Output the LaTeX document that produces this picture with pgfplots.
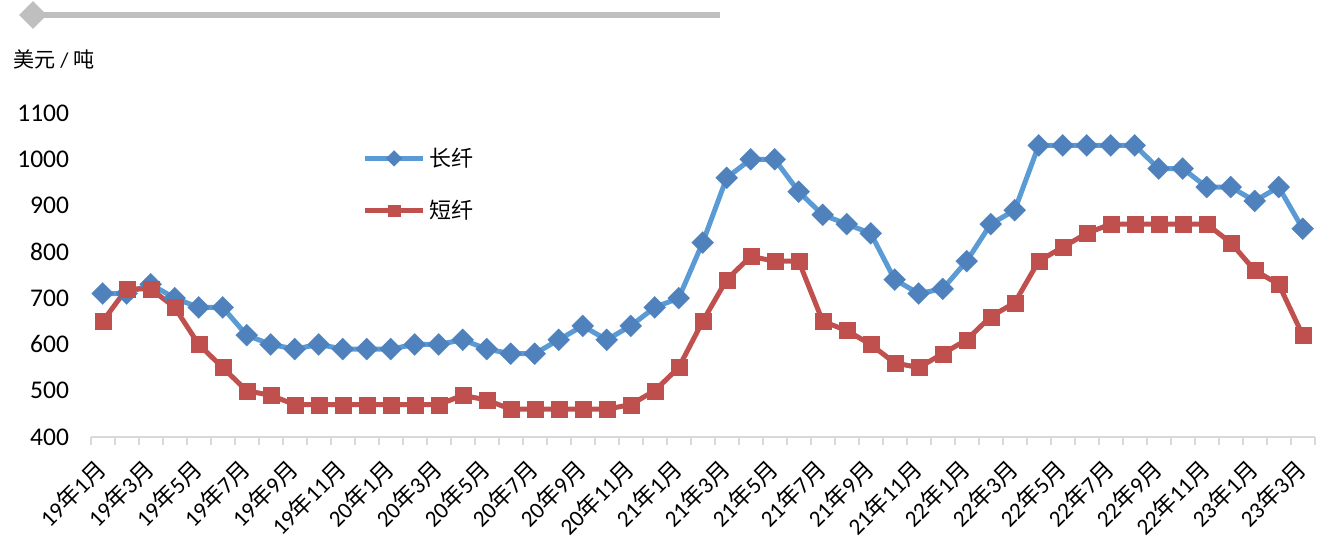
\documentclass[border=0pt]{standalone}
\usepackage{pgfplots}
\pgfplotsset{compat=1.18}
\usepackage{pgfplotstable}
\usetikzlibrary{shapes.geometric}
\usepackage{fontspec}
\setmainfont{Carlito}
\newfontfamily\cjk{Noto Sans CJK SC}
\newcommand\ym[2]{#1{\cjk 年}#2{\cjk 月}}
\definecolor{bline}{RGB}{91,155,213}
\definecolor{bmark}{RGB}{79,129,189}
\definecolor{rline}{RGB}{192,80,77}
\definecolor{axgray}{RGB}{217,217,217}
\definecolor{deco}{RGB}{191,191,191}

\pgfplotstableread{
i long short
0 710 650
1 710 720
2 730 720
3 700 680
4 680 600
5 680 550
6 620 500
7 600 490
8 590 470
9 600 470
10 590 470
11 590 470
12 590 470
13 600 470
14 600 470
15 610 490
16 590 480
17 580 460
18 580 460
19 610 460
20 640 460
21 610 460
22 640 470
23 680 500
24 700 550
25 820 650
26 960 740
27 1000 790
28 1000 780
29 930 780
30 880 650
31 860 630
32 840 600
33 740 560
34 710 550
35 720 580
36 780 610
37 860 660
38 890 690
39 1030 780
40 1030 810
41 1030 840
42 1030 860
43 1030 860
44 980 860
45 980 860
46 940 860
47 940 820
48 910 760
49 940 730
50 850 620
}\datatable

\begin{document}
\begin{tikzpicture}
\path[use as bounding box] (-18.14mm,-20.4mm) rectangle (248.26mm,87.4mm);
\begin{axis}[
  at={(0,0)}, anchor=south west,
  scale only axis,
  width=244.8mm, height=64.8mm,
  xmin=-0.5, xmax=50.5, ymin=400, ymax=1100,
  ytick={400,500,...,1100},
  xtick={0,2,...,50},
  xticklabels={\ym{19}{1},\ym{19}{3},\ym{19}{5},\ym{19}{7},\ym{19}{9},\ym{19}{11},
    \ym{20}{1},\ym{20}{3},\ym{20}{5},\ym{20}{7},\ym{20}{9},\ym{20}{11},
    \ym{21}{1},\ym{21}{3},\ym{21}{5},\ym{21}{7},\ym{21}{9},\ym{21}{11},
    \ym{22}{1},\ym{22}{3},\ym{22}{5},\ym{22}{7},\ym{22}{9},\ym{22}{11},
    \ym{23}{1},\ym{23}{3}},
  major tick length=0pt,
  extra x ticks={-0.5,0.5,...,50.5},
  extra x tick labels={},
  extra x tick style={major tick length=1.6mm, tick align=outside, tick style={axgray, line width=0.4mm}},
  axis x line*=bottom, axis y line*=left,
  x axis line style={axgray, line width=0.4mm, -},
  y axis line style={draw=none},
  /pgf/number format/assume math mode=true,
  /pgf/number format/1000 sep={},
  yticklabel style={font=\fontsize{14.5}{14.5}\selectfont, black, xshift=-3.1mm},
  xticklabel style={font=\fontsize{13.2}{13.2}\selectfont, black, xshift=0.6mm, yshift=-4.6mm, rotate=45, anchor=east},
  clip=false,
  legend style={at={(0.2175,0.915)}, anchor=north west, draw=none, fill=none,
    font=\fontsize{12.5}{12.5}\selectfont, row sep=4.8mm, legend cell align=left},
  legend image code/.code={\draw[mark repeat=2,mark phase=2,#1,every mark/.append style={scale=0.72}] plot coordinates {(0mm,0mm) (5.8mm,0mm) (11.6mm,0mm)};},
]
\addplot[bline, line width=1mm, mark=square*, mark size=1.56mm,
  mark options={rotate=45, draw=bmark, fill=bmark, line width=0.1pt}] table[x=i, y=long] {\datatable};
\addlegendentry{\cjk 长纤}
\addplot[rline, line width=1mm, mark=square*, mark size=1.6mm,
  mark options={draw=rline, fill=rline, line width=0.1pt}] table[x=i, y=short] {\datatable};
\addlegendentry{\cjk 短纤}
\end{axis}
\draw[deco, line width=1.2mm] (-11.54mm,84.4mm) -- (125.86mm,84.4mm);
\node[diamond, fill=deco, inner sep=0pt, minimum size=5.6mm] at (-11.54mm,84.4mm) {};
\node[anchor=west, inner sep=0pt, font=\fontsize{12}{12}\selectfont] at (-15.54mm,75.6mm) {{\cjk 美元} / {\cjk 吨}};
\end{tikzpicture}
\end{document}
